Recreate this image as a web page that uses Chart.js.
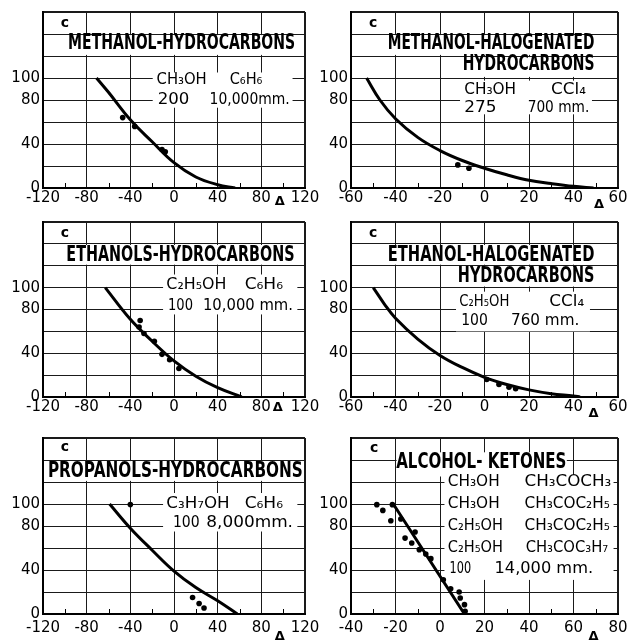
<!DOCTYPE html>
<html>
<head>
<meta charset="utf-8">
<script src="https://cdn.jsdelivr.net/npm/chart.js@4.4.1/dist/chart.umd.min.js"></script>
<style>
  html, body { margin: 0; padding: 0; background: #fff; }
  #page { position: relative; width: 633px; height: 643px; overflow: hidden; background: #fff; }
  .panel { position: absolute; }
</style>
</head>
<body>
<div id="page">
  <div class="panel" style="left:0;top:0;width:330px;height:210px"><canvas id="c1"></canvas></div>
  <div class="panel" style="left:316px;top:0;width:317px;height:210px"><canvas id="c2"></canvas></div>
  <div class="panel" style="left:0;top:210px;width:330px;height:210px"><canvas id="c3"></canvas></div>
  <div class="panel" style="left:316px;top:210px;width:317px;height:210px"><canvas id="c4"></canvas></div>
  <div class="panel" style="left:0;top:420px;width:330px;height:223px"><canvas id="c5"></canvas></div>
  <div class="panel" style="left:316px;top:420px;width:317px;height:223px"><canvas id="c6"></canvas></div>
</div>
<script>
// ---- tick labels ----
const xTicksWide = [-120, -80, -40, 0, 40, 80, 120];
const xTicksHalo = [-60, -40, -20, 0, 20, 40, 60];
const xTicksKetone = [-40, -20, 0, 20, 40, 60, 80];
const yTickLabels = [0, 40, 80, 100];

// ---- series (x = delta, y = c) ----
const methHydroCurve = [[-71, 100], [-60, 87], [-40, 62], [-20, 42], [0, 23], [20, 10], [40, 3], [56, 0]];
const methHydroPoints = [[-47, 64], [-36, 56], [-11, 35], [-8, 33]];

const methHaloCurve = [[-53, 100], [-47, 80], [-40, 63], [-30, 46], [-20, 34], [-10, 25], [0, 18],
    [10, 12], [20, 7], [30, 4], [40, 1.5], [49, 0]];
const methHaloPoints = [[-12, 21], [-7, 18]];

const ethHydroCurve = [[-63, 100], [-40, 71], [-20, 51], [0, 33], [20, 19], [40, 8.5], [62, 0]];
const ethHydroPoints = [[-31, 70], [-32, 64], [-27.5, 58], [-18, 51], [-11, 39], [-4, 34], [4.5, 26]];

const ethHaloCurve = [[-50, 100], [-45, 85], [-40, 72], [-30, 53], [-20, 38], [-10, 27], [0, 18],
    [10, 11.4], [20, 6.5], [30, 3], [40, 1], [43, 0]];
const ethHaloPoints = [[1, 16], [6.5, 11.5], [11, 9], [14, 7.5]];

const propHydroCurve = [[-59, 100], [-40, 78], [-20, 58], [0, 39], [20, 24], [40, 12], [58, 0]];
const propHydroPoints = [[-40, 99.5], [17, 15], [23, 9.5], [27.5, 5.5]];

const alcKetoneLine = [[-21, 100], [11, 0]];
const alcKetonePoints = [
    [-28.4, 99.4], [-25.7, 94.2], [-22.1, 84.8], [-21.4, 99.4], [-17.6, 86.4],
    [-15.7, 69], [-12.7, 64.5], [-11.2, 74.5], [-9.3, 58.5], [-6.4, 54.5],
    [-4.1, 50.3], [1.5, 31.2], [4.8, 23], [8.6, 20], [9.1, 14.5], [11, 8.5], [11.3, 2.4]
];

const TITLE = 'bold 21px "DejaVu Sans"';
const FORM = '15px "DejaVu Sans"';
const SMALL = 'bold 14px "DejaVu Sans"';
const DELTA = 'bold 13px "DejaVu Sans"';

// ---- panel layout: [text, x1, x2 (or null = centred), baseline y, font] in data units ----
const panels = [
    {
        id: 'c1', yw: 43, padTop: 11, padRight: 25, xh: 22, tickPad: 1,
        xr: [-120, 120], step: 40, ticks: xTicksWide, curve: methHydroCurve, pts: methHydroPoints,
        delta: [97, 17],
        boxes: [[-97, 111, 139, 121], [-19.5, 108.6, 105, 73]],
        texts: [
            ['c', -100, null, 146.5, SMALL],
            ['METHANOL-HYDROCARBONS', -97, 111, 126.6, TITLE],
            ['CH₃OH', -16, 30, 94.7, FORM], ['C₆H₆', 51, 81, 94.7, FORM],
            ['200', -15, 14, 76, FORM], ['10,000mm.', 32.6, 106, 76, FORM]
        ]
    },
    {
        id: 'c2', yw: 35, padTop: 11, padRight: 15, xh: 22, tickPad: 1,
        xr: [-60, 60], step: 20, ticks: xTicksHalo, curve: methHaloCurve, pts: methHaloPoints,
        delta: [51.5, 20],
        boxes: [[-44.7, 50.6, 139, 121], [-11.5, 50.6, 119, 101], [-11, 48.3, 97.6, 67]],
        texts: [
            ['c', -50, null, 146.5, SMALL],
            ['METHANOL-HALOGENATED', -43.5, 49.4, 126.3, TITLE],
            ['HYDROCARBONS', -9.8, 49.4, 107, TITLE],
            ['CH₃OH', -9.1, 14.2, 85.4, FORM], ['CCl₄', 29.9, 45.6, 85.4, FORM],
            ['275', -9.1, 5.4, 69.3, FORM], ['700 mm.', 19.4, 47.1, 69.3, FORM]
        ]
    },
    {
        id: 'c3', yw: 43, padTop: 8, padRight: 25, xh: 23, tickPad: 1,
        xr: [-120, 120], step: 40, ticks: xTicksWide, curve: ethHydroCurve, pts: ethHydroPoints,
        delta: [95, 14],
        boxes: [[-99, 113, 139, 121], [-10, 113, 112, 75.5]],
        texts: [
            ['c', -100, null, 146.6, SMALL],
            ['ETHANOLS-HYDROCARBONS', -98.6, 110.4, 124.7, TITLE],
            ['C₂H₅OH', -7, 48, 99.1, FORM], ['C₆H₆', 64.7, 99.8, 99.1, FORM],
            ['100', -5.5, 17.4, 79.6, FORM], ['10,000 mm.', 26.5, 109, 79.6, FORM]
        ]
    },
    {
        id: 'c4', yw: 35, padTop: 8, padRight: 15, xh: 23, tickPad: 1,
        xr: [-60, 60], step: 20, ticks: xTicksHalo, curve: ethHaloCurve, pts: ethHaloPoints,
        delta: [49, 20],
        boxes: [[-44.7, 50.6, 139, 121], [-13, 50.6, 119, 101], [-12.8, 47.4, 96.3, 60]],
        texts: [
            ['c', -50, null, 146.6, SMALL],
            ['ETHANOL-HALOGENATED', -43.5, 49.4, 124.7, TITLE],
            ['HYDROCARBONS', -12, 49.4, 105.1, TITLE],
            ['C₂H₅OH', -11.3, 11.2, 83.5, FORM], ['CCl₄', 29.1, 44.8, 83.5, FORM],
            ['100', -10.5, 1.5, 66.1, FORM], ['760 mm.', 11.9, 42.6, 66.1, FORM]
        ]
    },
    {
        id: 'c5', yw: 43, padTop: 18, padRight: 25, xh: 29, tickPad: 5,
        xr: [-120, 120], step: 40, ticks: xTicksWide, curve: propHydroCurve, pts: propHydroPoints,
        delta: [97, 26],
        boxes: [[-117, 119, 139, 121], [-10, 113, 110, 75]],
        texts: [
            ['c', -100, null, 147.8, SMALL],
            ['PROPANOLS-HYDROCARBONS', -115.5, 118, 125, TITLE],
            ['C₃H₇OH', -7, 51, 96.4, FORM], ['C₆H₆', 64.7, 99.8, 96.4, FORM],
            ['100', -1, 23.5, 79.1, FORM], ['8,000mm.', 29.6, 109, 79.1, FORM]
        ]
    },
    {
        id: 'c6', yw: 35, padTop: 18, padRight: 15, xh: 29, tickPad: 5,
        xr: [-40, 80], step: 20, ticks: xTicksKetone, curve: alcKetoneLine, pts: alcKetonePoints,
        delta: [69, 26],
        boxes: [[-19.5, 57, 147, 125], [2, 78, 126.6, 31]],
        texts: [
            ['c', -29.6, null, 147, SMALL],
            ['ALCOHOL- KETONES', -19.7, 56.8, 132.7, TITLE],
            ['CH₃OH', 3.5, 26.8, 116, FORM], ['CH₃COCH₃', 38, 77, 116, FORM],
            ['CH₃OH', 3.5, 26.8, 96.4, FORM], ['CH₃COC₂H₅', 38, 76.3, 96.4, FORM],
            ['C₂H₅OH', 3.5, 28.3, 76.6, FORM], ['CH₃COC₂H₅', 38, 76.3, 76.6, FORM],
            ['C₂H₅OH', 3.5, 28.3, 56, FORM], ['CH₃COC₃H₇', 38.5, 75.6, 56, FORM],
            ['100', 4.3, 14, 37.3, FORM], ['14,000 mm.', 24.5, 68.8, 37.3, FORM]
        ]
    }
];

function toXY(list) {
    return list.map(p => ({ x: p[0], y: p[1] }));
}

// draw a string squeezed/stretched to span x1..x2 (pixels)
function fitText(ctx, text, x1, x2, yBase, font) {
    ctx.font = font;
    ctx.textBaseline = 'alphabetic';
    if (x2 === null) {
        ctx.textAlign = 'center';
        ctx.fillText(text, x1, yBase);
        return;
    }
    const w = ctx.measureText(text).width;
    ctx.save();
    ctx.translate(x1, yBase);
    ctx.scale((x2 - x1) / w, 1);
    ctx.textAlign = 'left';
    ctx.fillText(text, 0, 0);
    ctx.restore();
}

const panelDecor = {
    id: 'panelDecor',
    beforeDatasetsDraw(chart, args, opts) {
        const { ctx, scales: { x, y } } = chart;
        ctx.save();
        ctx.fillStyle = '#fff';
        opts.boxes.forEach(b => {
            const x1 = x.getPixelForValue(b[0]), x2 = x.getPixelForValue(b[1]);
            const y1 = y.getPixelForValue(b[2]), y2 = y.getPixelForValue(b[3]);
            ctx.fillRect(x1, y1, x2 - x1, y2 - y1);
        });
        ctx.fillStyle = '#000';
        opts.texts.forEach(t => {
            const x1 = x.getPixelForValue(t[1]);
            const x2 = t[2] === null ? null : x.getPixelForValue(t[2]);
            fitText(ctx, t[0], x1, x2, y.getPixelForValue(t[3]), t[4]);
        });
        ctx.restore();
    },
    afterDraw(chart, args, opts) {
        const { ctx, chartArea, scales: { x } } = chart;
        ctx.save();
        // minor ticks half way between grid lines
        ctx.strokeStyle = '#000';
        ctx.lineWidth = 1;
        const t = opts.ticks;
        for (let i = 0; i < t.length - 1; i++) {
            const px = Math.round(x.getPixelForValue((t[i] + t[i + 1]) / 2)) + 0.5;
            ctx.beginPath();
            ctx.moveTo(px, chartArea.bottom);
            ctx.lineTo(px, chartArea.bottom - 5);
            ctx.stroke();
        }
        ctx.fillStyle = '#000';
        fitText(ctx, 'Δ', x.getPixelForValue(opts.delta[0]), null, chartArea.bottom + opts.delta[1], DELTA);
        ctx.restore();
    }
};

panels.forEach(p => {
    const xMax = p.xr[1];
    new Chart(document.getElementById(p.id), {
        type: 'scatter',
        data: {
            datasets: [
                {
                    data: toXY(p.curve),
                    showLine: true,
                    borderColor: '#000',
                    borderWidth: 3,
                    pointRadius: 0,
                    tension: 0.4
                },
                {
                    data: toXY(p.pts),
                    showLine: false,
                    pointRadius: 2.8,
                    pointBackgroundColor: '#000',
                    pointBorderWidth: 0
                }
            ]
        },
        options: {
            responsive: true,
            maintainAspectRatio: false,
            animation: false,
            layout: { padding: { top: p.padTop, right: p.padRight, left: 0, bottom: 0 } },
            plugins: {
                legend: { display: false },
                tooltip: { enabled: false },
                panelDecor: { boxes: p.boxes, texts: p.texts, ticks: p.ticks, delta: p.delta }
            },
            scales: {
                x: {
                    type: 'linear',
                    min: p.xr[0],
                    max: xMax,
                    afterFit: s => { s.height = p.xh; },
                    border: { color: '#000', width: 2 },
                    grid: {
                        color: '#1a1a1a',
                        drawTicks: false,
                        lineWidth: c => (c.tick && c.tick.value === xMax ? 2 : 1)
                    },
                    ticks: {
                        stepSize: p.step,
                        padding: p.tickPad,
                        color: '#000',
                        maxRotation: 0,
                        autoSkip: false,
                        font: { family: 'DejaVu Sans', size: 15 },
                        callback: v => (p.ticks.includes(v) ? String(v) : '')
                    }
                },
                y: {
                    type: 'linear',
                    min: 0,
                    max: 160,
                    afterFit: s => { s.width = p.yw; },
                    border: { color: '#000', width: 2 },
                    grid: {
                        color: '#1a1a1a',
                        drawTicks: false,
                        lineWidth: c => (c.tick && c.tick.value === 160 ? 2 : 1)
                    },
                    ticks: {
                        stepSize: 20,
                        padding: 3,
                        color: '#000',
                        font: { family: 'DejaVu Sans', size: 15 },
                        callback: v => (yTickLabels.includes(v) ? String(v) : '')
                    }
                }
            }
        },
        plugins: [panelDecor]
    });
});
</script>
</body>
</html>
